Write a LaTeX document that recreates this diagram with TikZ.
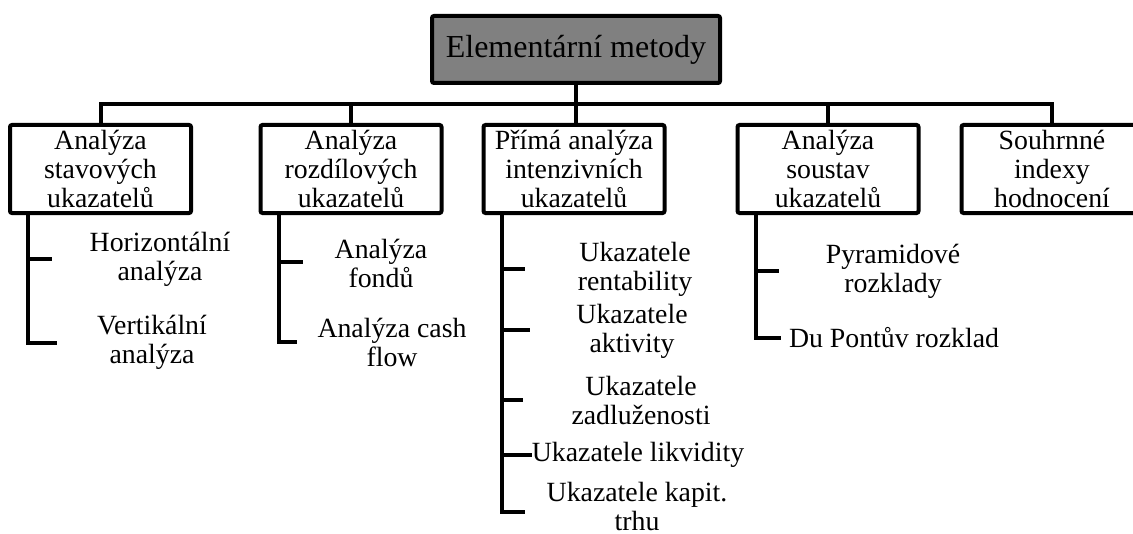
\documentclass[tikz,border=0pt]{standalone}
\usepackage{fontspec}
\setmainfont{Liberation Serif}
\definecolor{topgray}{RGB}{128,128,128}
\begin{document}
\begin{tikzpicture}[x=0.5pt,y=-0.5pt,inner sep=0pt,outer sep=0pt,line width=2pt,
topblock/.style={draw,rectangle,fill=topgray,rounded corners=1pt,minimum width=144pt,minimum height=33.5pt,font=\fontsize{16}{18}\selectfont},
methodblock/.style={draw,rectangle,rounded corners=1pt,align=center,minimum width=90.5pt,minimum height=44pt,font=\fontsize{13.9}{14.3}\selectfont},
sublabel/.style={align=center,font=\fontsize{13.9}{14.5}\selectfont}]
\useasboundingbox (0,0) rectangle (1133,534);
\draw (576,49.5) node[topblock] (top) {Elementární metody};
\draw (100.5,169) node[methodblock] (B1) {Analýza\\stavových\\ukazatelů};
\draw (351,169) node[methodblock] (B2) {Analýza\\rozdílových\\ukazatelů};
\draw (574,169) node[methodblock] (B3) {Přímá analýza\\intenzivních\\ukazatelů};
\draw (828,169) node[methodblock] (B4) {Analýza\\soustav\\ukazatelů};
\draw (1052,169) node[methodblock] (B5) {Souhrnné\\indexy\\hodnocení};
\coordinate (bus) at (0,104);
\draw (top.south) -- (top.south |- B3.north);
\draw (B1.north) |- (bus -| B5.north) -- (B5.north);
\draw (B2.north) -- (B2.north |- bus);
\draw (B4.north) -- (B4.north |- bus);
% stavove ukazatele
\draw (160,259) node[sublabel] (hor) {Horizontální\\analýza};
\draw (152,342) node[sublabel] (ver) {Vertikální\\analýza};
\coordinate (t11) at (52,259);
\coordinate (t12) at (57,343);
\draw ([xshift=9pt]B1.south west) |- (t11);
\draw ([xshift=9pt]B1.south west) |- (t12);
% rozdilove ukazatele
\draw (381,263) node[sublabel] (fon) {Analýza\\fondů};
\draw (392,342) node[sublabel] (cas) {Analýza cash\\flow};
\coordinate (t21) at (303,262);
\coordinate (t22) at (297,342);
\draw ([xshift=9pt]B2.south west) |- (t21);
\draw ([xshift=9pt]B2.south west) |- (t22);
% intenzivni ukazatele
\draw (635,269) node[sublabel] (ren) {Ukazatele\\rentability};
\draw (632,331) node[sublabel] (akt) {Ukazatele\\aktivity};
\draw (641,400) node[sublabel] (zad) {Ukazatele\\zadluženosti};
\draw (638,455) node[sublabel] (lik) {Ukazatele likvidity};
\draw (637,506) node[sublabel] (kap) {Ukazatele kapit.\\trhu};
\coordinate (t31) at (525,269);
\coordinate (t32) at (530,330);
\coordinate (t33) at (523,400);
\coordinate (t35) at (525,512);
\draw ([xshift=9pt]B3.south west) |- (t31);
\draw ([xshift=9pt]B3.south west) |- (t32);
\draw ([xshift=9pt]B3.south west) |- (t33);
\draw ([xshift=9pt]B3.south west) |- (lik.west);
\draw ([xshift=9pt]B3.south west) |- (t35);
% soustavy ukazatelu
\draw (893,271) node[sublabel] (pyr) {Pyramidové\\rozklady};
\draw (894,338) node[sublabel] (dup) {Du Pontův rozklad};
\coordinate (t41) at (779,271);
\draw ([xshift=9pt]B4.south west) |- (t41);
\draw ([xshift=9pt]B4.south west) |- ([xshift=-4pt]dup.west);
\end{tikzpicture}
\end{document}
